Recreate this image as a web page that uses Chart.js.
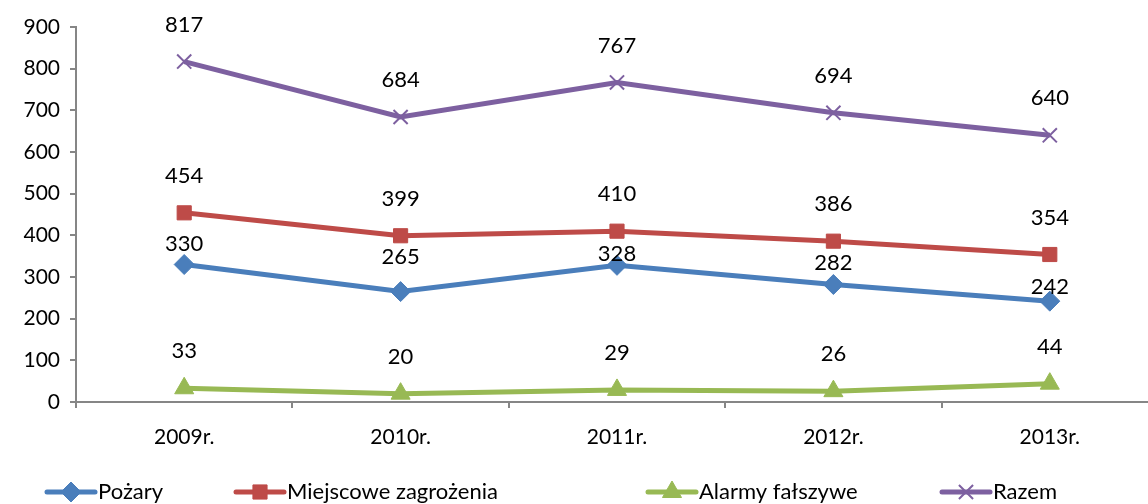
<!DOCTYPE html>
<html>
<head>
<meta charset="utf-8">
<script src="https://cdn.jsdelivr.net/npm/chart.js@4"></script>
<style>
  html, body { margin: 0; padding: 0; background: #fff; overflow: hidden; }
  #wrap { width: 1170px; height: 515px; }
</style>
</head>
<body>
<div id="wrap"><canvas id="wykres"></canvas></div>
<script>
const lata = ["2009r.", "2010r.", "2011r.", "2012r.", "2013r."];
const pozary = [330, 265, 328, 282, 242];
const miejscowe = [454, 399, 410, 386, 354];
const alarmy = [33, 20, 29, 26, 44];
const razem = [817, 684, 767, 694, 640];
const osY = [0, 100, 200, 300, 400, 500, 600, 700, 800, 900];

const czcionka = "Lato, 'Open Sans', sans-serif";

// etykiety nad punktami
const etykiety = {
    id: "etykiety",
    afterDatasetsDraw(chart) {
        const c = chart.ctx;
        c.save();
        c.font = "22px " + czcionka;
        c.fillStyle = "#000";
        c.textAlign = "center";
        c.textBaseline = "middle";
        chart.data.datasets.forEach((ds, i) => {
            const meta = chart.getDatasetMeta(i);
            meta.data.forEach((pt, j) => {
                const off = ds.przesuniecie ? ds.przesuniecie[j] : 37;
                c.fillText(ds.data[j], pt.x, pt.y - off);
            });
        });
        c.restore();
    }
};

// legenda jak w Excelu
const legenda = {
    id: "legenda",
    afterDraw(chart) {
        const c = chart.ctx;
        const startX = [47, 236, 648, 942];
        const y = 492;
        c.save();
        c.font = "22px " + czcionka;
        c.textBaseline = "middle";
        chart.data.datasets.forEach((ds, i) => {
            const x = startX[i];
            c.strokeStyle = ds.borderColor;
            c.fillStyle = ds.borderColor;
            c.lineWidth = 5;
            c.lineCap = "round";
            c.beginPath();
            c.moveTo(x, y);
            c.lineTo(x + 48, y);
            c.stroke();
            c.lineWidth = ds.pointBorderWidth;
            c.lineCap = "butt";
            Chart.helpers.drawPoint(c, {
                pointStyle: ds.pointStyle,
                radius: ds.pointRadius,
                borderWidth: ds.pointBorderWidth,
                rotation: 0
            }, x + 24, y);
            c.fillStyle = "#000";
            c.fillText(ds.label, x + 51, y);
        });
        c.restore();
    }
};

function seria(label, data, kolor, styl, promien) {
    return {
        label: label,
        data: data,
        borderColor: kolor,
        backgroundColor: kolor,
        pointBackgroundColor: kolor,
        pointBorderColor: kolor,
        borderWidth: 5,
        pointStyle: styl,
        pointRadius: promien,
        pointHoverRadius: promien,
        pointBorderWidth: styl === "crossRot" ? 2 : 1,
        tension: 0
    };
}

const dane = [
    seria("Pożary", pozary, "#4A7EBB", "rectRot", 10),
    seria("Miejscowe zagrożenia", miejscowe, "#BE4B48", "rect", 10),
    seria("Alarmy fałszywe", alarmy, "#98B954", "triangle", 11),
    seria("Razem", razem, "#7D60A0", "crossRot", 10)
];
dane[0].przesuniecie = [21, 35, 11, 22, 14];

new Chart(document.getElementById("wykres").getContext("2d"), {
    type: "line",
    data: { labels: lata, datasets: dane },
    plugins: [etykiety, legenda],
    options: {
        responsive: true,
        maintainAspectRatio: false,
        animation: false,
        layout: { padding: { top: 27, right: 9, bottom: 53, left: 0 } },
        plugins: {
            legend: { display: false },
            tooltip: { enabled: false }
        },
        scales: {
            x: {
                offset: true,
                afterFit: (s) => { s.height = 60; },
                grid: {
                    offset: true,
                    drawOnChartArea: false,
                    drawTicks: true,
                    tickLength: 6,
                    color: "#868686",
                    lineWidth: 2
                },
                border: { color: "#868686", width: 2 },
                ticks: {
                    color: "#000",
                    font: { family: czcionka, size: 21 },
                    padding: 17
                }
            },
            y: {
                min: 0,
                max: 900,
                afterBuildTicks: (s) => { s.ticks = osY.map(v => ({ value: v })); },
                afterFit: (s) => { s.width = 76; },
                grid: {
                    drawOnChartArea: false,
                    drawTicks: true,
                    tickLength: 6,
                    color: "#868686",
                    lineWidth: 2
                },
                border: { color: "#868686", width: 2 },
                ticks: {
                    color: "#000",
                    font: { family: czcionka, size: 21 },
                    padding: 10
                }
            }
        }
    }
});
</script>
</body>
</html>
